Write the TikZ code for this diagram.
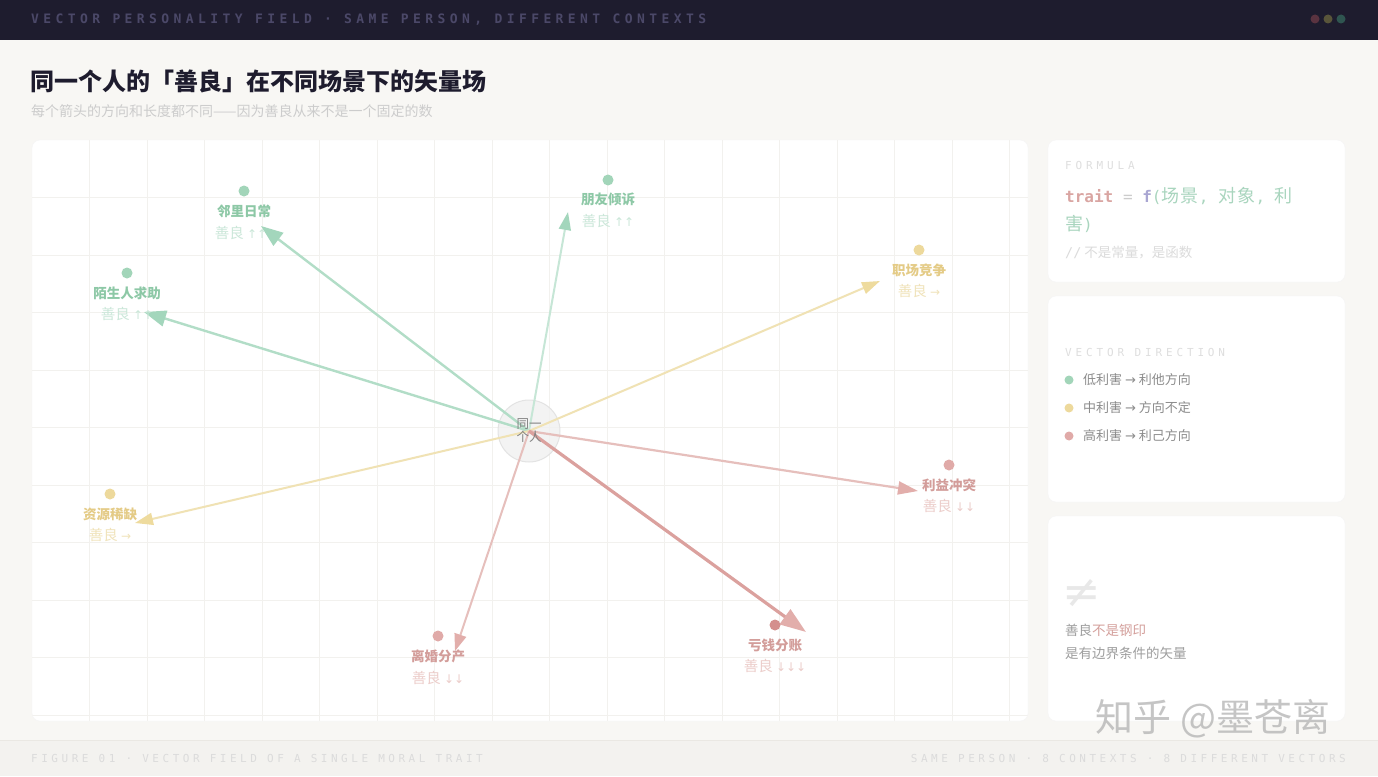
\documentclass[tikz,border=0pt]{standalone}
\usepackage{fontspec}
\setmainfont{Noto Sans CJK SC}
\newfontfamily\cjk{Noto Sans CJK SC}
\newfontfamily\hdrfont[LetterSpace=34]{DejaVu Sans Mono}
\newfontfamily\footfont[LetterSpace=32]{DejaVu Sans Mono}
\newfontfamily\monof{DejaVu Sans Mono}
\newfontfamily\symf{DejaVu Sans}
\usetikzlibrary{arrows.meta}
\definecolor{bgc}{HTML}{F8F7F4}
\definecolor{barc}{HTML}{1E1C2E}
\definecolor{hdrc}{HTML}{4B4868}
\definecolor{gridc}{HTML}{F2F1EE}
\definecolor{gline}{HTML}{B2DDC7}
\definecolor{ghead}{HTML}{A3D6BC}
\definecolor{glight}{HTML}{C6E6D6}
\definecolor{yline}{HTML}{F0E2B4}
\definecolor{yhead}{HTML}{EEDB9E}
\definecolor{rline}{HTML}{E6BFBC}
\definecolor{rhead}{HTML}{E2AEAB}
\definecolor{rdark}{HTML}{DBA19E}
\definecolor{gdot}{HTML}{A2D5B9}
\definecolor{ydot}{HTML}{EDD99C}
\definecolor{rdot}{HTML}{E0AAA8}
\definecolor{rdotdark}{HTML}{D48F8D}
\definecolor{gtxt}{HTML}{8DC8A6}
\definecolor{ytxt}{HTML}{E4CB86}
\definecolor{rtxt}{HTML}{D39D9A}
\definecolor{gsub}{HTML}{CBE7D9}
\definecolor{ysub}{HTML}{F0E3BA}
\definecolor{rsub}{HTML}{ECCDCA}
\definecolor{dot1}{HTML}{5A3340}
\definecolor{dot2}{HTML}{59553A}
\definecolor{dot3}{HTML}{2F5550}
\definecolor{titlec}{HTML}{1E1C2E}
\definecolor{footbg}{HTML}{F3F2EF}
\definecolor{footln}{HTML}{EAE8E3}
\definecolor{fgreen}{HTML}{A9D5BE}
\begin{document}
\begin{tikzpicture}[x=1pt,y=-1pt,
  hdr/.style={font=\hdrfont\bfseries\fontsize{13}{13}\selectfont, text=hdrc, inner sep=0pt},
  foot/.style={font=\footfont\fontsize{11}{11}\selectfont, text=black!14, inner sep=0pt},
  ctxlab/.style={font=\cjk\bfseries\fontsize{13.5}{14}\selectfont, inner sep=0pt},
  ctxsub/.style={font=\cjk\fontsize{14.5}{15}\selectfont, inner sep=0pt},
  panel/.style={fill=white, draw=black!4, rounded corners=8pt},
  vec/.style={line width=2.4pt},
  lab/.style={font=\monof\fontsize{11}{11}\selectfont, text=black!13, inner sep=0pt},
  legend/.style={font=\cjk\fontsize{13}{13}\selectfont, text=black!45, inner sep=0pt, anchor=west}
]
\useasboundingbox (0,0) rectangle (1378,776);
\fill[bgc] (0,0) rectangle (1378,776);
% top bar
\fill[barc] (0,0) rectangle (1378,40);
\node[hdr, anchor=west] (hdr) at (31,20) {VECTOR PERSONALITY FIELD · SAME PERSON, DIFFERENT CONTEXTS};
\fill[dot1] (1315,19) circle (4.5);
\fill[dot2] (1328,19) circle (4.5);
\fill[dot3] (1341,19) circle (4.5);
% title
\node[anchor=west, inner sep=0pt, font=\cjk\bfseries\fontsize{24}{25}\selectfont, text=titlec] (title) at (30,81) {同一个人的「善良」在不同场景下的矢量场};
\node[anchor=west, inner sep=0pt, font=\cjk\fontsize{14}{14}\selectfont, text=black!20] (subtitle) at (31,111) {每个箭头的方向和长度都不同——因为善良从来不是一个固定的数};
% main panel
\draw[panel] (32,140) rectangle (1028,721);
\begin{scope}
\clip[rounded corners=8pt] (32,140) rectangle (1028,721);
\foreach \i in {1,...,17} \draw[gridc, line width=1pt] ({32+57.5*\i},140) -- ({32+57.5*\i},721);
\foreach \j in {1,...,10} \draw[gridc, line width=1pt] (32,{140+57.5*\j}) -- (1028,{140+57.5*\j});
\end{scope}
% center
\node[circle, minimum size=62pt, fill=black!6, draw=black!13, line width=1pt, opacity=0.8] (c) at (529,431) {};
% targets
\coordinate (t1) at (261,226);
\coordinate (t2) at (144,312);
\coordinate (t3) at (568,212);
\coordinate (t4) at (880,281);
\coordinate (t5) at (135,523);
\coordinate (t6) at (918,491);
\coordinate (t7) at (455,651);
\coordinate (t8) at (806,632);
% vectors
\draw[vec, gline, -{Triangle[length=22pt,width=16pt,fill=ghead,color=ghead]}] (c.center) -- (t1);
\draw[vec, gline, -{Triangle[length=22pt,width=16pt,fill=ghead,color=ghead]}] (c.center) -- (t2);
\draw[vec, glight, line width=2pt, -{Triangle[length=18pt,width=12pt,fill=ghead,color=ghead]}] (c.center) -- (t3);
\draw[vec, yline, line width=2pt, -{Triangle[length=18pt,width=12pt,fill=yhead,color=yhead]}] (c.center) -- (t4);
\draw[vec, yline, line width=2pt, -{Triangle[length=18pt,width=12pt,fill=yhead,color=yhead]}] (c.center) -- (t5);
\draw[vec, rline, line width=2.2pt, -{Triangle[length=20pt,width=13pt,fill=rhead,color=rhead]}] (c.center) -- (t6);
\draw[vec, rline, line width=2pt, -{Triangle[length=17pt,width=12pt,fill=rhead,color=rhead]}] (c.center) -- (t7);
\draw[vec, rdark, line width=3.2pt, -{Triangle[length=26pt,width=18pt,fill=rhead,color=rhead]}] (c.center) -- (t8);
\node[align=center, inner sep=0pt, font=\cjk\fontsize{12.5}{13}\selectfont, text=black!50] (ctext) at (529,431) {同一\\个人};
% context markers
\fill[gdot] (244,191) circle (5.5);
\node[ctxlab, text=gtxt] (l1) at (244,211) {邻里日常};
\node[ctxsub, text=gsub] (s1) at (241,233) {善良 {\symf\fontsize{12}{12}\selectfont ↑↑}};
\fill[gdot] (127,273) circle (5.5);
\node[ctxlab, text=gtxt] (l2) at (127,293) {陌生人求助};
\node[ctxsub, text=gsub] (s2) at (127,314) {善良 {\symf\fontsize{12}{12}\selectfont ↑↑}};
\fill[gdot] (608,180) circle (5.5);
\node[ctxlab, text=gtxt] (l3) at (608,199) {朋友倾诉};
\node[ctxsub, text=gsub] (s3) at (608,221) {善良 {\symf\fontsize{12}{12}\selectfont ↑↑}};
\fill[ydot] (919,250) circle (5.5);
\node[ctxlab, text=ytxt] (l4) at (919,270) {职场竞争};
\node[ctxsub, text=ysub] (s4) at (919,291) {善良 {\symf\fontsize{12}{12}\selectfont →}};
\fill[ydot] (110,494) circle (5.5);
\node[ctxlab, text=ytxt] (l5) at (110,514) {资源稀缺};
\node[ctxsub, text=ysub] (s5) at (110,535) {善良 {\symf\fontsize{12}{12}\selectfont →}};
\fill[rdot] (949,465) circle (5.5);
\node[ctxlab, text=rtxt] (l6) at (949,485) {利益冲突};
\node[ctxsub, text=rsub] (s6) at (949,506) {善良 {\symf\fontsize{12}{12}\selectfont ↓↓}};
\fill[rdot] (438,636) circle (5.5);
\node[ctxlab, text=rtxt] (l7) at (438,656) {离婚分产};
\node[ctxsub, text=rsub] (s7) at (438,678) {善良 {\symf\fontsize{12}{12}\selectfont ↓↓}};
\fill[rdotdark] (775,625) circle (5.5);
\node[ctxlab, text=rtxt] (l8) at (775,645) {亏钱分账};
\node[ctxsub, text=rsub] (s8) at (775,666) {善良 {\symf\fontsize{12}{12}\selectfont ↓↓↓}};
% right panels
\draw[panel] (1048,140) rectangle (1345,282);
\draw[panel] (1048,296) rectangle (1345,502);
\draw[panel] (1048,516) rectangle (1345,721);
\node[lab, anchor=west] (fl) at (1065,165) {\addfontfeature{LetterSpace=35}FORMULA};
\node[anchor=west, inner sep=0pt, font=\monof\fontsize{16}{16}\selectfont] (f1) at (1065,196)
  {\textcolor[HTML]{D9A5A2}{\bfseries trait} \textcolor{black!20}{=} \textcolor[HTML]{A9A6D2}{\bfseries f}\textcolor{fgreen}{({\cjk\addfontfeature{LetterSpace=8}\fontsize{18}{18}\selectfont 场景}, {\cjk\addfontfeature{LetterSpace=8}\fontsize{18}{18}\selectfont 对象}, {\cjk\fontsize{18}{18}\selectfont 利}}};
\node[anchor=west, inner sep=0pt, font=\monof\fontsize{16}{16}\selectfont, text=fgreen] (f2) at (1065,224) {{\cjk\fontsize{18}{18}\selectfont 害})};
\node[anchor=west, inner sep=0pt, font=\fontsize{13.5}{14}\selectfont, text=black!14] (f3) at (1065,253) {{\monof //} 不是常量，是函数};
\node[lab, anchor=west] (vl) at (1065,352) {\addfontfeature{LetterSpace=35}VECTOR DIRECTION};
\fill[gdot] (1069,380) circle (4.5);
\node[legend] (g1) at (1083,380) {低利害 {\symf →} 利他方向};
\fill[ydot] (1069,408) circle (4.5);
\node[legend] (g2) at (1083,408) {中利害 {\symf →} 方向不定};
\fill[rdot] (1069,436) circle (4.5);
\node[legend] (g3) at (1083,436) {高利害 {\symf →} 利己方向};
\node[anchor=west, inner sep=0pt, font=\symf\fontsize{46}{46}\selectfont, text=black!9] (neq) at (1062,594) {≠};
\node[anchor=west, inner sep=0pt, font=\cjk\fontsize{13.5}{14}\selectfont, text=black!38] (p1) at (1065,630) {善良\textcolor[HTML]{D4A09C}{不是钢印}};
\node[anchor=west, inner sep=0pt, font=\cjk\fontsize{13.5}{14}\selectfont, text=black!38] (p2) at (1065,653) {是有边界条件的矢量};
% footer
\fill[footbg] (0,740) rectangle (1378,776);
\draw[footln, line width=1pt] (0,740) -- (1378,740);
\node[foot, anchor=west] (fo1) at (31,758) {FIGURE 01 · VECTOR FIELD OF A SINGLE MORAL TRAIT};
\node[foot, anchor=east] (fo2) at (1346,758) {SAME PERSON · 8 CONTEXTS · 8 DIFFERENT VECTORS};
% watermark
\node[inner sep=0pt, font=\cjk\fontsize{38}{38}\selectfont, text=black!30, opacity=0.75] (wm) at (1213,719) {知乎 @墨苍离};
\end{tikzpicture}
\end{document}
